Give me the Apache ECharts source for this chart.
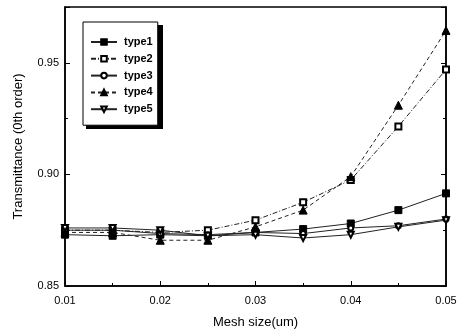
<!DOCTYPE html>
<html><head><meta charset="utf-8">
<script src="https://cdn.jsdelivr.net/npm/echarts@6/dist/echarts.min.js"></script>
<style>html,body{margin:0;padding:0;background:#fff}#c{width:462px;height:334px}</style>
</head><body><div id="c"></div>
<script>
const meshSize = [0.01, 0.015, 0.02, 0.025, 0.03, 0.035, 0.04, 0.045, 0.05];
const type1 = [0.873, 0.8725, 0.873, 0.8725, 0.874, 0.8755, 0.878, 0.884, 0.8915];
const type2 = [0.875, 0.875, 0.874, 0.875, 0.8795, 0.8875, 0.8975, 0.9215, 0.947];
const type3 = [0.875, 0.875, 0.8735, 0.873, 0.874, 0.8735, 0.876, 0.877, 0.880];
const type4 = [0.874, 0.874, 0.8705, 0.8705, 0.8765, 0.884, 0.899, 0.931, 0.9645];
const type5 = [0.876, 0.876, 0.875, 0.8725, 0.873, 0.8715, 0.873, 0.8765, 0.8795];
const seriesNames = ['type1', 'type2', 'type3', 'type4', 'type5'];
const seriesValues = [type1, type2, type3, type4, type5];
const xTicks = [0.01, 0.02, 0.03, 0.04, 0.05];
const yTicks = [0.85, 0.90, 0.95];

const styles = [
  {symbol: 'rect', size: 7, rotate: 0, line: 'solid'},
  {symbol: 'emptyRect', size: 6, rotate: 0, line: [5, 2, 1, 2]},
  {symbol: 'emptyCircle', size: 5, rotate: 0, line: 'solid'},
  {symbol: 'triangle', size: 8, rotate: 0, line: [4, 3]},
  {symbol: 'emptyTriangle', size: 6, rotate: 180, line: 'solid'}
];

const chart = echarts.init(document.getElementById('c'), null, {renderer: 'canvas'});
const font = 'Liberation Sans, Arial, sans-serif';
chart.setOption({
  animation: false,
  backgroundColor: '#fff',
  grid: {left: 65, right: 16, top: 7, bottom: 44, show: true, borderColor: '#000', borderWidth: 1.5, backgroundColor: 'transparent'},
  graphic: [{
    type: 'rect', left: 86, top: 25, z: 90,
    shape: {width: 77, height: 104},
    style: {fill: '#000'}
  }],
  legend: {
    orient: 'vertical', left: 83, top: 22, z: 100,
    padding: [14, 5, 10, 7],
    itemGap: 4.8, itemWidth: 26, itemHeight: 7,
    backgroundColor: '#fff', borderColor: '#000', borderWidth: 1,
    textStyle: {fontFamily: font, fontSize: 11, fontWeight: 'bold', color: '#000', lineHeight: 12, padding: [0, 0, 0, 2]},
    data: seriesNames
  },
  xAxis: {
    type: 'value', min: 0.01, max: 0.05, interval: 0.01,
    name: 'Mesh size(um)', nameLocation: 'middle', nameGap: 30,
    nameTextStyle: {fontFamily: font, fontSize: 13, color: '#000'},
    axisLine: {show: true, onZero: false, lineStyle: {color: '#000', width: 1.5}},
    axisTick: {show: true, inside: true, length: 5, lineStyle: {color: '#000'}},
    minorTick: {show: true, splitNumber: 2, length: 3, lineStyle: {color: '#000'}},
    axisLabel: {fontFamily: font, fontSize: 11, color: '#000', margin: 9,
      formatter: v => xTicks.some(t => Math.abs(t - v) < 1e-9) ? v.toFixed(2) : ''},
    splitLine: {show: false}
  },
  yAxis: [{
    type: 'value', min: 0.85, max: 0.975, interval: 0.05,
    name: 'Transmittance (0th order)', nameLocation: 'middle', nameGap: 40,
    nameTextStyle: {fontFamily: font, fontSize: 13, color: '#000'},
    axisLine: {show: true, onZero: false, lineStyle: {color: '#000', width: 1.5}},
    axisTick: {show: true, inside: true, length: 5, lineStyle: {color: '#000'}},
    minorTick: {show: true, splitNumber: 2, length: 3, lineStyle: {color: '#000'}},
    axisLabel: {fontFamily: font, fontSize: 11, color: '#000', margin: 6, showMaxLabel: false,
      formatter: v => yTicks.some(t => Math.abs(t - v) < 1e-9) ? v.toFixed(2) : ''},
    splitLine: {show: false}
  }, {
    type: 'value', min: 0.85, max: 0.975, interval: 0.05, position: 'right',
    axisLine: {show: true, onZero: false, lineStyle: {color: '#000', width: 1.5}},
    axisTick: {show: true, inside: true, length: 5, lineStyle: {color: '#000'}},
    minorTick: {show: true, splitNumber: 2, length: 3, lineStyle: {color: '#000'}},
    axisLabel: {show: false}, splitLine: {show: false}
  }],
  series: seriesNames.map((n, i) => ({
    name: n, type: 'line', yAxisIndex: 0,
    data: meshSize.map((x, j) => [x, seriesValues[i][j]]),
    symbol: styles[i].symbol, symbolSize: styles[i].size, symbolRotate: styles[i].rotate,
    showAllSymbol: true,
    lineStyle: {color: '#222', width: 1, type: styles[i].line},
    itemStyle: {color: '#000', borderColor: '#000', borderWidth: 1},
    emphasis: {disabled: true}
  }))
});
</script></body></html>
